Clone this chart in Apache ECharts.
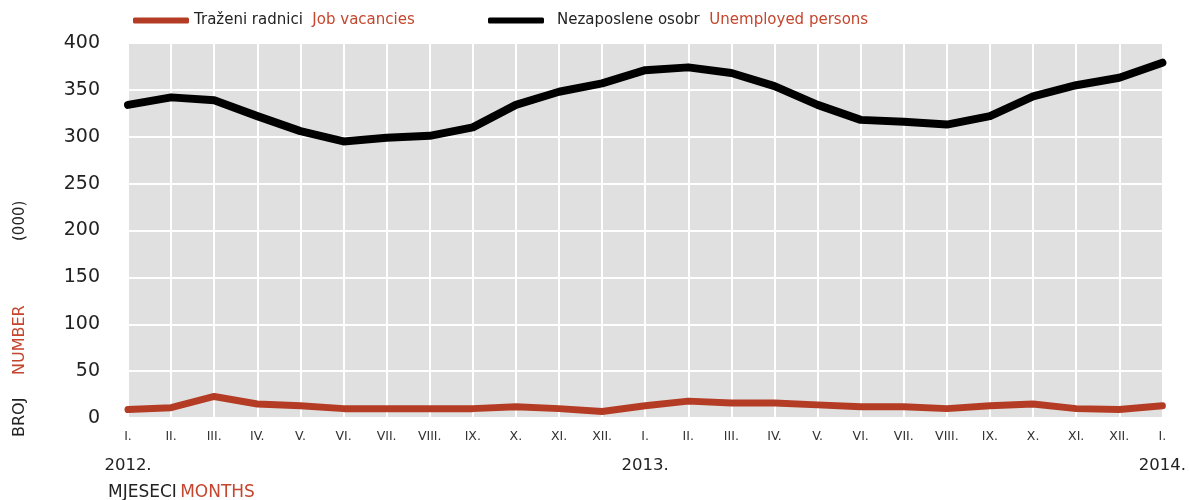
<!DOCTYPE html>
<html>
<head>
<meta charset="utf-8">
<script src="https://cdn.jsdelivr.net/npm/echarts@6/dist/echarts.min.js"></script>
<style>
html,body{margin:0;padding:0;background:#fff;}
#chart{width:1189px;height:500px;}
</style>
</head>
<body>
<div id="chart"></div>
<script>
const months = ['I.','II.','III.','IV.','V.','VI.','VII.','VIII.','IX.','X.','XI.','XII.',
                'I.','II.','III.','IV.','V.','VI.','VII.','VIII.','IX.','X.','XI.','XII.','I.'];
const years = ['2012.','','','','','','','','','','','',
               '2013.','','','','','','','','','','','','2014.'];
const jobVacancies = [9,11,23,15,13,10,10,10,10,12,10,7,13,18,16,16,14,12,12,10,13,15,10,9,13];
const unemployed = [334,342,339,322,306,295,299,301,310,334,348,357,371,374,368,354,334,318,316,313,322,343,355,363,379];
const yTicks = {min:0, max:400, interval:50};

const RED = '#b43c25';
const TXTRED = '#c4462e';
const FONT = 'DejaVu Sans';

function legendText(padLeft){
  return {
    fontFamily:FONT, fontSize:15,
    rich:{a:{color:'#222', fontSize:15, fontFamily:FONT, padding:[0,0,0,padLeft]}, b:{color:TXTRED, fontSize:15, fontFamily:FONT}}
  };
}

const chart = echarts.init(document.getElementById('chart'));
chart.setOption({
  animation:false,
  textStyle:{fontFamily:FONT},
  grid:{left:128, right:26, top:43, bottom:82, show:true, backgroundColor:'#dfe0df', borderWidth:0},
  legend:[{
    top:8, left:128, itemWidth:56, itemHeight:6,
    icon:'roundRect',
    data:[{name:'Traženi radnici', itemStyle:{color:RED}}],
    formatter:function(){ return '{a|Traženi radnici}  {b|Job vacancies}'; },
    textStyle:legendText(0)
  },{
    top:8, left:483, itemWidth:56, itemHeight:6,
    icon:'roundRect',
    data:[{name:'Nezaposlene osobr', itemStyle:{color:'#000'}}],
    formatter:function(){ return '{a|Nezaposlene osobr}  {b|Unemployed persons}'; },
    textStyle:legendText(8)
  }],
  xAxis:[{
    type:'category', data:months, boundaryGap:false,
    axisLine:{show:false}, axisTick:{show:false},
    axisLabel:{interval:0, color:'#333', fontSize:12.5, margin:12},
    splitLine:{show:true, interval:0, lineStyle:{color:'#ffffff', width:2}}
  },{
    type:'category', data:years, boundaryGap:false, position:'bottom', offset:31,
    axisLine:{show:false}, axisTick:{show:false},
    axisLabel:{interval:0, color:'#222', fontSize:16.5},
    splitLine:{show:false}
  }],
  yAxis:{
    type:'value', min:yTicks.min, max:yTicks.max, interval:yTicks.interval,
    axisLine:{show:false}, axisTick:{show:false},
    axisLabel:{color:'#222', fontSize:19, margin:28},
    splitLine:{show:true, lineStyle:{color:'#ffffff', width:2}}
  },
  series:[
    {name:'Traženi radnici', type:'line', data:jobVacancies, symbol:'none', xAxisIndex:0,
     lineStyle:{color:RED, width:7, cap:'round', join:'round'}, itemStyle:{color:RED}},
    {name:'Nezaposlene osobr', type:'line', data:unemployed, symbol:'none', xAxisIndex:0,
     lineStyle:{color:'#000', width:8, cap:'round', join:'round'}, itemStyle:{color:'#000'}}
  ],
  graphic:[
    {type:'text', left:108, top:484, style:{text:'{a|MJESECI} {b|MONTHS}', rich:{a:{fill:'#222', fontSize:17, fontFamily:FONT}, b:{fill:TXTRED, fontSize:17, fontFamily:FONT}}}},
    {type:'text', x:20, y:437, rotation:Math.PI/2, style:{text:'BROJ', fill:'#222', fontSize:16, fontFamily:FONT, verticalAlign:'middle', align:'left'}},
    {type:'text', x:20, y:375, rotation:Math.PI/2, style:{text:'NUMBER', fill:TXTRED, fontSize:16, fontFamily:FONT, verticalAlign:'middle', align:'left'}},
    {type:'text', x:20, y:241, rotation:Math.PI/2, style:{text:'(000)', fill:'#222', fontSize:15, fontFamily:FONT, verticalAlign:'middle', align:'left'}}
  ]
});
</script>
</body>
</html>
